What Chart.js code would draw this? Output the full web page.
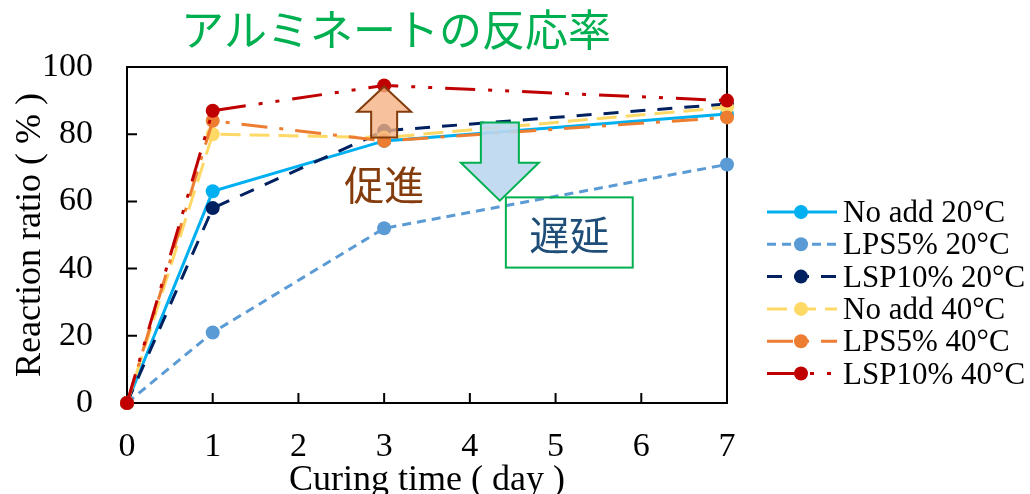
<!DOCTYPE html>
<html>
<head>
<meta charset="utf-8">
<script src="https://cdn.jsdelivr.net/npm/chart.js@4/dist/chart.umd.min.js"></script>
<style>
  html, body { margin: 0; padding: 0; background: #fff; }
  #wrap { width: 1030px; height: 494px; }
</style>
</head>
<body>
<div id="wrap"><canvas id="chart1" width="1030" height="494"></canvas></div>
<script>
// データ（養生日数と反応率）
const days = [0, 1, 3, 7];
const noAdd20 = [0, 63, 78, 86];
const lps5_20 = [0, 21, 52, 71];
const lsp10_20 = [0, 58, 81, 89];
const noAdd40 = [0, 80, 79, 88];
const lps5_40 = [0, 84, 78, 85];
const lsp10_40 = [0, 87, 94.5, 90];

const seriesNames = ['No add 20°C', 'LPS5% 20°C', 'LSP10% 20°C', 'No add 40°C', 'LPS5% 40°C', 'LSP10% 40°C'];
const seriesValues = [noAdd20, lps5_20, lsp10_20, noAdd40, lps5_40, lsp10_40];
const seriesColors = ['#00B0F0', '#5B9BD5', '#002060', '#FFD966', '#ED7D31', '#C00000'];
const seriesDash = [[], [9, 6], [15, 12], [20, 9], [26, 12, 4, 12], [30, 13, 4, 13, 4, 13]];
const drawOrder = [6, 5, 4, 3, 2, 1];

const xTicks = [0, 1, 2, 3, 4, 5, 6, 7];
const yTicks = [0, 20, 40, 60, 80, 100];

const serif = '"Liberation Serif", "Times New Roman", serif';
const jp = '"Noto Sans CJK JP", sans-serif';

function toPoints(vals) {
    return vals.map((v, i) => ({ x: days[i], y: v }));
}

var datasets = seriesNames.map(function (name, i) {
    return {
        label: name,
        data: toPoints(seriesValues[i]),
        borderColor: seriesColors[i],
        backgroundColor: seriesColors[i],
        pointBackgroundColor: seriesColors[i],
        pointBorderColor: seriesColors[i],
        borderWidth: 3,
        borderDash: seriesDash[i],
        pointRadius: 7,
        pointBorderWidth: 0,
        tension: 0,
        fill: false,
        clip: false,
        order: drawOrder[i]
    };
});

// 枠・目盛・注釈・凡例を描くプラグイン
const extras = {
    id: 'extras',
    beforeDatasetsDraw(chart) {
        const ctx = chart.ctx;
        const a = chart.chartArea;
        const xs = chart.scales.x, ys = chart.scales.y;
        ctx.save();
        ctx.strokeStyle = '#000';
        ctx.lineWidth = 2;
        ctx.strokeRect(a.left, a.top, a.right - a.left, a.bottom - a.top);
        // 内向きの目盛
        ctx.beginPath();
        xTicks.forEach(v => {
            const px = xs.getPixelForValue(v);
            ctx.moveTo(px, a.bottom);
            ctx.lineTo(px, a.bottom - 10);
        });
        yTicks.forEach(v => {
            const py = ys.getPixelForValue(v);
            ctx.moveTo(a.left, py);
            ctx.lineTo(a.left + 10, py);
        });
        ctx.stroke();
        ctx.restore();
    },
    afterDatasetsDraw(chart) {
        const ctx = chart.ctx;
        const xs = chart.scales.x, ys = chart.scales.y;
        ctx.save();

        // 促進（上向き矢印）
        let cx = xs.getPixelForValue(3);
        let tip = ys.getPixelForValue(94.2), neck = ys.getPixelForValue(86.7), base = ys.getPixelForValue(79);
        ctx.beginPath();
        ctx.moveTo(cx, tip);
        ctx.lineTo(cx + 27, neck);
        ctx.lineTo(cx + 13, neck);
        ctx.lineTo(cx + 13, base);
        ctx.lineTo(cx - 13, base);
        ctx.lineTo(cx - 13, neck);
        ctx.lineTo(cx - 27, neck);
        ctx.closePath();
        ctx.fillStyle = 'rgba(244, 177, 131, 0.8)';
        ctx.fill();
        ctx.strokeStyle = '#843C0C';
        ctx.lineWidth = 2;
        ctx.stroke();

        ctx.font = '40px ' + jp;
        ctx.fillStyle = '#843C0C';
        ctx.textAlign = 'center';
        ctx.textBaseline = 'middle';
        ctx.fillText('促進', cx, ys.getPixelForValue(64.8));

        // 遅延（下向き矢印）
        cx = xs.getPixelForValue(4.35);
        const top = ys.getPixelForValue(83.5), head = ys.getPixelForValue(71.5), point = ys.getPixelForValue(60.2);
        ctx.beginPath();
        ctx.moveTo(cx - 19, top);
        ctx.lineTo(cx + 19, top);
        ctx.lineTo(cx + 19, head);
        ctx.lineTo(cx + 39, head);
        ctx.lineTo(cx, point);
        ctx.lineTo(cx - 39, head);
        ctx.lineTo(cx - 19, head);
        ctx.closePath();
        ctx.fillStyle = 'rgba(189, 215, 238, 0.9)';
        ctx.fill();
        ctx.strokeStyle = '#00B050';
        ctx.lineWidth = 2;
        ctx.stroke();

        // 遅延の枠
        const bx1 = xs.getPixelForValue(4.42), bx2 = xs.getPixelForValue(5.9);
        const by1 = ys.getPixelForValue(61.2), by2 = ys.getPixelForValue(40.3);
        ctx.strokeRect(bx1, by1, bx2 - bx1, by2 - by1);
        ctx.font = '40px ' + jp;
        ctx.fillStyle = '#1F4E79';
        ctx.fillText('遅延', (bx1 + bx2) / 2, (by1 + by2) / 2 + 2);
        ctx.restore();
    },
    afterDraw(chart) {
        const ctx = chart.ctx;
        ctx.save();
        // タイトル
        ctx.font = '43px ' + jp;
        ctx.fillStyle = '#00B050';
        ctx.textAlign = 'center';
        ctx.textBaseline = 'middle';
        ctx.fillText('アルミネートの反応率', 396, 30);

        // 凡例
        ctx.textAlign = 'left';
        ctx.font = '31px ' + serif;
        seriesNames.forEach((name, i) => {
            const y = 212 + i * 32.3;
            ctx.strokeStyle = seriesColors[i];
            ctx.lineWidth = 3;
            ctx.setLineDash(seriesDash[i]);
            ctx.beginPath();
            ctx.moveTo(767, y);
            ctx.lineTo(837, y);
            ctx.stroke();
            ctx.setLineDash([]);
            ctx.fillStyle = seriesColors[i];
            ctx.beginPath();
            ctx.arc(801, y, 7, 0, Math.PI * 2);
            ctx.fill();
            ctx.fillStyle = '#000';
            ctx.fillText(name, 843, y + 2);
        });
        ctx.restore();
    }
};

var ctx1 = document.getElementById('chart1').getContext('2d');
var chart1 = new Chart(ctx1, {
    type: 'line',
    data: { datasets: datasets },
    plugins: [extras],
    options: {
        responsive: false,
        animation: false,
        layout: { padding: { left: 0, top: 67, right: 303, bottom: 0 }, autoPadding: false },
        plugins: {
            legend: { display: false },
            tooltip: { enabled: false }
        },
        scales: {
            x: {
                type: 'linear',
                min: 0,
                max: 7,
                afterFit: function (scale) { scale.height = 91; },
                afterBuildTicks: function (scale) { scale.ticks = xTicks.map(v => ({ value: v })); },
                grid: { display: false, drawTicks: false },
                border: { display: false },
                ticks: { color: '#000', padding: 24, font: { family: serif, size: 34 } },
                title: {
                    display: true,
                    text: 'Curing time ( day )',
                    color: '#000',
                    padding: { top: 0, bottom: -5 },
                    font: { family: serif, size: 36, lineHeight: 1.0 }
                }
            },
            y: {
                min: 0,
                max: 100,
                afterFit: function (scale) { scale.width = 127; },
                afterBuildTicks: function (scale) { scale.ticks = yTicks.map(v => ({ value: v })); },
                grid: { display: false, drawTicks: false },
                border: { display: false },
                ticks: { color: '#000', padding: 34, font: { family: serif, size: 34 } },
                title: {
                    display: true,
                    text: 'Reaction ratio ( % )',
                    color: '#000',
                    padding: { top: 9, bottom: 0 },
                    font: { family: serif, size: 36 }
                }
            }
        }
    }
});
</script>
</body>
</html>
